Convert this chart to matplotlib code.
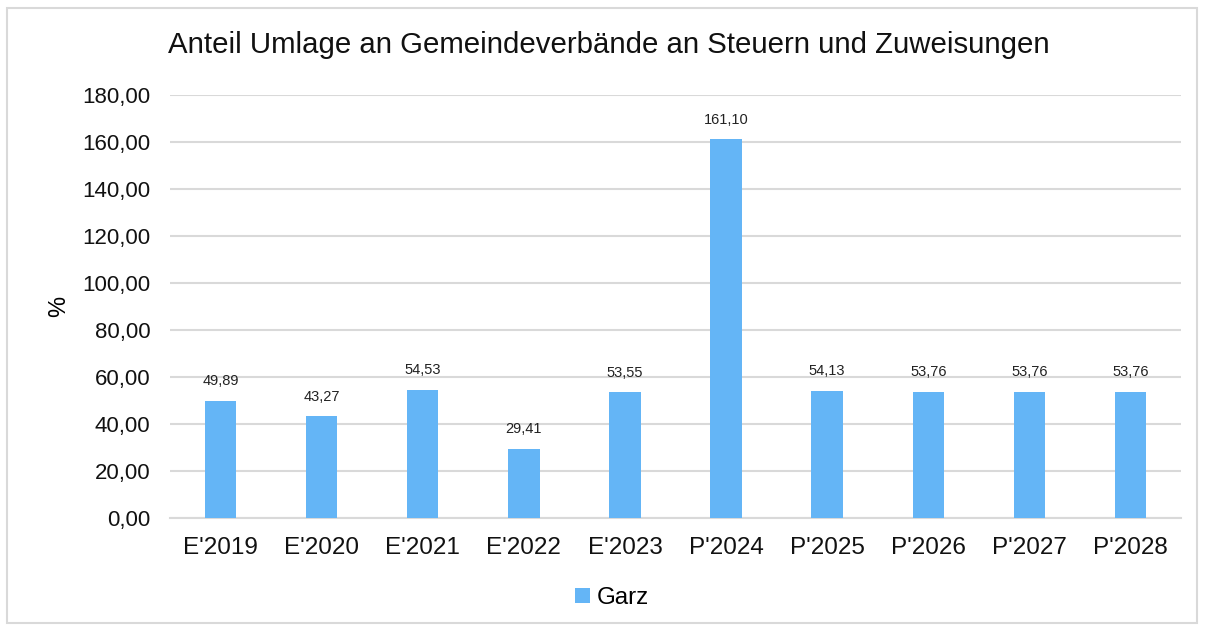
import matplotlib.pyplot as plt
from matplotlib.patches import Rectangle

plt.rcParams['font.family'] = ['Liberation Sans', 'DejaVu Sans']

# data
jahre = ["E'2019", "E'2020", "E'2021", "E'2022", "E'2023",
         "P'2024", "P'2025", "P'2026", "P'2027", "P'2028"]
anteil = [49.89, 43.27, 54.53, 29.41, 53.55, 161.10, 54.13, 53.76, 53.76, 53.76]
yticks = [0, 20, 40, 60, 80, 100, 120, 140, 160, 180]

def de(v):
    return '{:.2f}'.format(v).replace('.', ',')

fig = plt.figure(figsize=(12.05, 6.31), dpi=100)
ax = fig.add_axes([170 / 1205, 1 - 518 / 631, 1011 / 1205, 423 / 631])

x = range(len(jahre))
bars = ax.bar(x, anteil, width=0.31, color='#64B5F6', zorder=3, label='Garz')
for xi, v in zip(x, anteil):
    ax.annotate(de(v), (xi, v), xytext=(0, 9), textcoords='offset points',
                ha='center', va='bottom', fontsize=10.5, color='#222222')

ax.set_xlim(-0.5, len(jahre) - 0.5)
ax.set_ylim(0, 180)
ax.set_yticks(yticks)
ax.set_yticklabels([de(t) for t in yticks])
ax.set_xticks(list(x))
ax.set_xticklabels(jahre)
ax.tick_params(axis='both', length=0, labelsize=16, colors='#111111')
ax.tick_params(axis='x', labelsize=17.5, pad=14)
ax.tick_params(axis='y', pad=14)
ax.grid(axis='y', color='#d9d9d9', linewidth=1.5, zorder=0)
for s in ['top', 'right', 'left']:
    ax.spines[s].set_visible(False)
ax.spines['bottom'].set_color('#d9d9d9')
ax.spines['bottom'].set_linewidth(1.5)

ax.set_ylabel('%', fontsize=17, labelpad=9)
fig.text(168 / 1205, 1 - 45 / 631, 'Anteil Umlage an Gemeindeverbände an Steuern und Zuweisungen',
         fontsize=21.2, ha='left', va='center', color='#111111')

fig.legend(handles=[bars], loc='center', bbox_to_anchor=(612 / 1205, 1 - 598 / 631),
           frameon=False, fontsize=17.4, handlelength=0.6, handleheight=0.6, handletextpad=0.3)

fig.patches.append(Rectangle((7 / 1205, 8 / 631), 1190 / 1205, 615 / 631, transform=fig.transFigure,
                             fill=False, edgecolor='#d9d9d9', linewidth=1.5))

fig.savefig('out.png', dpi=100)
